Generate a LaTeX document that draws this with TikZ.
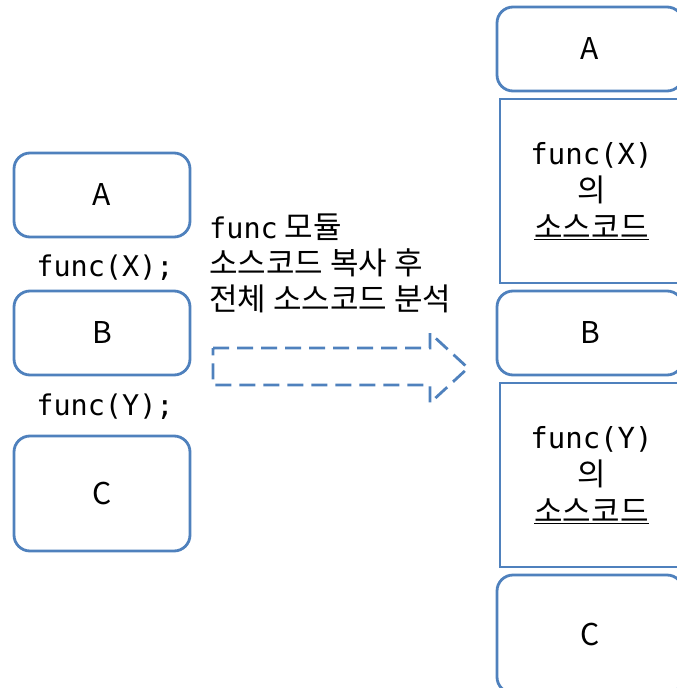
\documentclass[tikz,border=0pt]{standalone}
\usepackage{fontspec}
\newfontfamily\cjk{Noto Sans CJK KR}
\newfontfamily\mono{DejaVu Sans Mono}
\definecolor{boxblue}{RGB}{79,129,189}
\tikzset{
  rbox/.style={draw=boxblue, line width=2.8pt, rounded corners=16pt, fill=white,
    minimum width=176pt, minimum height=84pt, inner sep=0pt, font=\cjk\fontsize{30}{30}\selectfont},
  sbox/.style={draw=boxblue, line width=2.8pt, fill=white,
    minimum width=183pt, minimum height=184pt, inner sep=0pt, align=center,
    font=\cjk\fontsize{31}{37}\selectfont},
  code/.style={font=\mono\fontsize{28.5}{30}\selectfont, inner sep=0pt},
}
\begin{document}
\begin{tikzpicture}[x=1pt,y=-1pt]
\useasboundingbox (0,0) rectangle (677,688);
\clip (0,0) rectangle (677,688);
% left column
\node[rbox] (la) at (102,195) {A};
\node[code] (fx) at (105,268) {func(X);};
\node[rbox] (lb) at (102,333) {B};
\node[code] (fy) at (105,407) {func(Y);};
\node[rbox, minimum height=115pt] (lc) at (102,493.5) {C};
% label
\node[anchor=base west, align=left, inner sep=0pt, font=\cjk\fontsize{31}{36}\selectfont] (lbl) at (209,310)
  {{\mono\fontsize{28.5}{36}\selectfont func} 모듈\\소스코드 복사 후\\전체 소스코드 분석};
% dashed block arrow
\draw[boxblue, line width=2.8pt, dash pattern=on 16pt off 8pt]
  (213,348) -- (430,348) -- (430,333) -- (468,368) -- (430,403) -- (430,385) -- (213,385) -- cycle;
% right column
\node[rbox, minimum width=186pt] (ra) at (590,49) {A};
\node[sbox] (rx) at (591.5,191) {{\mono\fontsize{29}{37}\selectfont func(X)}\\의\\\underline{소스코드}};
\node[rbox, minimum width=186pt] (rb) at (590,333) {B};
\node[sbox] (ry) at (591.5,475) {{\mono\fontsize{29}{37}\selectfont func(Y)}\\의\\\underline{소스코드}};
\node[rbox, minimum width=186pt, minimum height=118pt] (rc) at (590,634) {C};
\end{tikzpicture}
\end{document}
